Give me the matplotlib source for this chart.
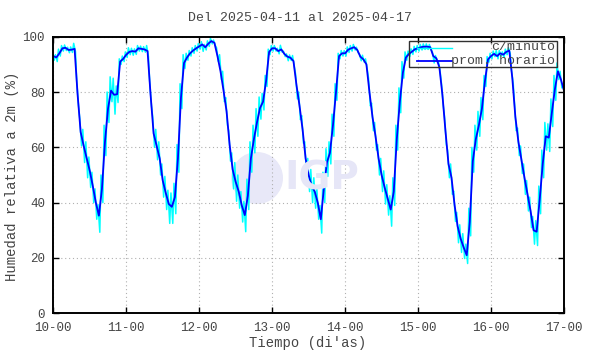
import numpy as np
import matplotlib
matplotlib.use("Agg")
import matplotlib.pyplot as plt
from matplotlib.patches import Rectangle, Circle

# ---------------- data ----------------
title = "Del 2025-04-11 al 2025-04-17"
xlabel = "Tiempo (di'as)"
ylabel = "Humedad relativa a 2m (%)"
x_ticks = [10, 11, 12, 13, 14, 15, 16, 17]
x_ticklabels = ["10-00", "11-00", "12-00", "13-00", "14-00", "15-00", "16-00", "17-00"]
y_ticks = [0, 20, 40, 60, 80, 100]
legend_labels = ["c/minuto", "prom. horario"]

# hourly mean relative humidity (%), hours 0..23 of each day
rh_d10 = [93.0, 92.5, 94.0, 95.8, 96.0, 95.2, 95.3, 95.6, 79.0, 65.5, 60.5, 56.0,
          51.5, 46.0, 40.0, 35.3, 45.0, 62.0, 74.0, 80.5, 79.0, 79.2, 91.0, 92.0]
rh_d11 = [93.5, 94.5, 94.8, 94.6, 95.8, 95.6, 95.4, 94.8, 79.0, 65.0, 60.5, 56.0,
          48.0, 43.5, 39.5, 38.5, 42.0, 56.0, 78.0, 90.5, 92.5, 94.0, 95.0, 95.8]
rh_d12 = [96.5, 97.2, 96.2, 97.5, 98.4, 97.8, 93.0, 87.5, 80.5, 73.0, 61.0, 52.0,
          47.5, 44.0, 39.0, 35.5, 42.5, 56.0, 63.0, 69.0, 74.2, 76.5, 84.0, 94.5]
rh_d13 = [95.8, 95.8, 94.8, 95.4, 93.8, 92.8, 92.4, 91.2, 82.5, 75.0, 66.5, 56.0,
          50.0, 46.0, 44.0, 40.0, 34.0, 45.0, 54.5, 58.0, 68.0, 80.0, 93.0, 94.0]
rh_d14 = [94.0, 95.3, 95.8, 96.2, 95.2, 92.8, 91.8, 90.0, 80.0, 71.0, 64.0, 56.0,
          50.0, 45.5, 41.5, 37.5, 44.0, 63.0, 76.5, 87.0, 92.5, 93.8, 94.6, 95.5]
rh_d15 = [95.8, 96.2, 96.4, 96.4, 96.2, 93.0, 92.2, 89.0, 79.0, 66.0, 54.0, 49.0,
          39.2, 31.5, 27.0, 23.8, 21.0, 33.0, 55.0, 63.0, 68.0, 74.0, 84.0, 91.8]
rh_d16 = [93.0, 93.8, 93.0, 94.0, 93.5, 94.5, 95.0, 85.0, 71.0, 62.0, 55.5, 49.0,
          43.0, 37.0, 30.0, 29.5, 41.0, 54.0, 64.0, 63.5, 72.5, 81.0, 87.5, 84.5]
rh_end = 80.5  # value at 17-00

# per-minute series: how far the minute readings reach above / below the hourly line
up_d10 = [1, 1, 1.5, 1, 1, 1, 1, 2, 5, 5, 6, 6, 5, 5, 5, 4, 5, 6, 6, 5, 6, 3, 1, 1]
dn_d10 = [1.5, 1.5, 1, 1, 1, 1, 1, 1, 4, 5, 6, 7, 6, 6, 6, 6, 5, 5, 5, 4, 7, 3, 1, 1]
up_d11 = [1, 1.5, 1, 1, 1, 1, 1, 2, 5, 6, 6, 6, 6, 6, 5, 5, 5, 5, 5, 3, 1.5, 1, 1, 1]
dn_d11 = [1, 1, 1.5, 1, 1, 1, 1, 2, 4, 5, 5, 6, 6, 6, 7, 6, 6, 5, 4, 2, 1, 1, 1, 1]
up_d12 = [1, 1, 1, 1, 1, 1, 3, 6, 7, 5, 5, 6, 7, 6, 5, 5, 6, 6, 5, 5, 4, 3, 2, 1]
dn_d12 = [1, 2.5, 1, 1, 1, 1, 2, 3, 4, 5, 6, 7, 7, 6, 6, 6, 5, 5, 5, 5, 4, 3, 2, 1]
up_d13 = [1, 1, 1, 1.5, 1, 1, 1, 2, 4, 5, 5, 6, 6, 6, 5, 5, 5, 6, 5, 4, 4, 3, 1, 1]
dn_d13 = [1, 1, 1, 1, 1, 1.5, 1, 2, 5, 5, 5, 6, 6, 6, 6, 6, 5, 5, 5, 4, 4, 3, 1, 1]
up_d14 = [1, 1, 1, 1, 1, 1, 1.5, 2, 5, 5, 5, 5, 6, 6, 5, 5, 5, 5, 5, 4, 2, 1, 1, 1]
dn_d14 = [1, 1, 1, 1, 1, 1.5, 1, 2, 5, 5, 5, 6, 6, 6, 6, 6, 5, 4, 4, 2, 1, 1, 1, 1]
up_d15 = [1, 1, 1, 1, 1, 1.5, 1, 2, 4, 5, 5, 5, 5, 5, 5, 5, 4, 5, 5, 5, 5, 4, 2, 1]
dn_d15 = [1, 1, 1, 1, 1, 2.5, 1, 2, 4, 5, 5, 6, 6, 6, 5, 4, 3, 5, 4, 4, 4, 4, 2, 1]
up_d16 = [1, 1, 2, 1, 1, 1, 1, 3, 5, 5, 5, 5, 5, 5, 5, 4, 5, 5, 5, 5, 5, 5, 3, 3]
dn_d16 = [1, 1, 1, 1, 1, 1, 1, 2, 5, 5, 5, 6, 6, 6, 5, 5, 5, 5, 5, 5, 5, 4, 3, 3]
up_end, dn_end = 2, 3

# ---------------- assemble ----------------
hourly = np.array(rh_d10 + rh_d11 + rh_d12 + rh_d13 + rh_d14 + rh_d15 + rh_d16 + [rh_end])
t_hour = 10 + np.arange(len(hourly)) / 24.0
up = np.array(up_d10 + up_d11 + up_d12 + up_d13 + up_d14 + up_d15 + up_d16 + [up_end])
dn = np.array(dn_d10 + dn_d11 + dn_d12 + dn_d13 + dn_d14 + dn_d15 + dn_d16 + [dn_end])
t_min = np.column_stack([t_hour - 0.3 / 24, t_hour + 0.3 / 24]).ravel()
v_min = np.column_stack([hourly + up, hourly - dn]).ravel()

# ---------------- style ----------------
FONT = ["Liberation Mono", "DejaVu Sans Mono"]
plt.rcParams["font.family"] = FONT
TXT = "#454545"

W, H = 590, 354
fig = plt.figure(figsize=(W / 100, H / 100), dpi=100)
L, R, T, B = 53.3, 564.0, 36.7, 313.3
ax = fig.add_axes([L / W, 1 - B / H, (R - L) / W, (B - T) / H])

# watermark logo
ax.add_patch(Circle((257, 176), 26, transform=None, facecolor="#e8e8f8",
                    edgecolor="none", zorder=0.5))
fig.text(284 / W, 1 - 178 / H, "IGP", fontsize=28, fontweight="bold",
         family="DejaVu Sans", color="#e6e6f7", ha="left", va="center", zorder=0.6)

ax.plot(t_min, v_min, color="#00ffff", lw=1.1, zorder=2)
ax.plot(t_hour, hourly, color="#0000ff", lw=1.3, zorder=3)

ax.set_xlim(10, 17)
ax.set_ylim(0, 100)
ax.set_xticks(x_ticks)
ax.set_xticklabels(x_ticklabels)
ax.set_yticks(y_ticks)
ax.tick_params(direction="in", length=4, width=1, top=True, right=True,
               labelsize=9, labelcolor=TXT, pad=6)
ax.grid(True, color="#b0b0b0", linestyle=(0, (1, 2.5)), linewidth=0.8)
ax.set_axisbelow(True)
for s in ax.spines.values():
    s.set_linewidth(1.4)
    s.set_color("black")
    s.set_zorder(5)

fig.text(300 / W, 1 - 18 / H, title, ha="center", va="center", fontsize=9.5, color=TXT)
fig.text(308 / W, 1 - 343 / H, xlabel, ha="center", va="center", fontsize=10, color=TXT)
fig.text(12 / W, 1 - 176 / H, ylabel, ha="center", va="center", rotation=90,
         fontsize=10, color=TXT)

# legend box (gnuplot style, right-justified text)
def ax_x(px):
    return (px - L) / (R - L)

def ax_y(py):
    return (B - py) / (B - T)

ax.add_patch(Rectangle((ax_x(409), ax_y(67)), ax_x(557) - ax_x(409), ax_y(41) - ax_y(67),
                       transform=ax.transAxes, fill=False, edgecolor="#303030",
                       lw=1.0, zorder=6))
for yy, col, lab in [(47.5, "#00ffff", legend_labels[0]), (61, "#0000ff", legend_labels[1])]:
    ax.plot([ax_x(417), ax_x(452)], [ax_y(yy), ax_y(yy)], transform=ax.transAxes,
            color=col, lw=1.3 if col == "#0000ff" else 1.0, zorder=6, clip_on=False)
    ax.text(ax_x(555), ax_y(yy), lab, transform=ax.transAxes, ha="right", va="center",
            fontsize=9.5, color=TXT, zorder=6)

fig.savefig("out.png", dpi=100)
